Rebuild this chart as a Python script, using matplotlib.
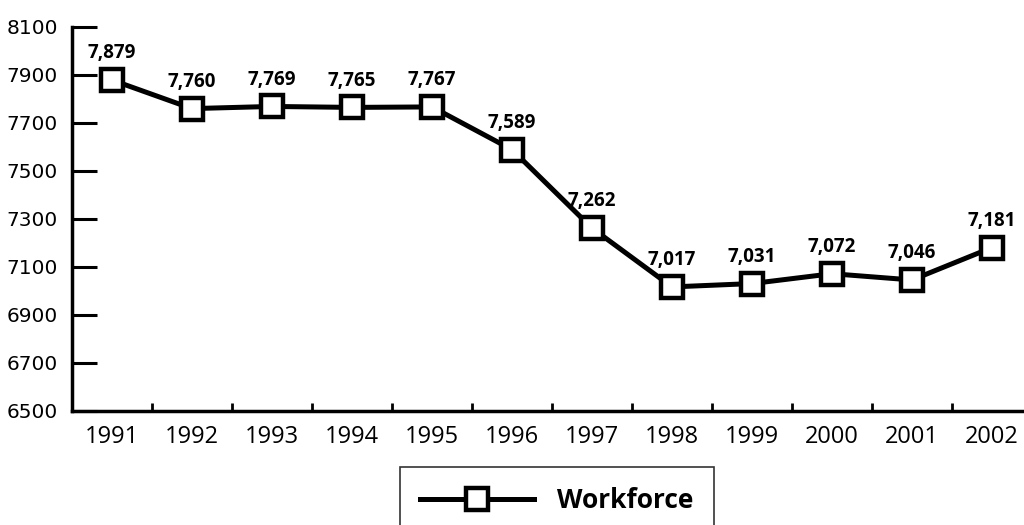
import matplotlib
matplotlib.use("Agg")
import matplotlib.pyplot as plt
import numpy as np
from matplotlib import font_manager

years = ["1991", "1992", "1993", "1994", "1995", "1996", "1997", "1998", "1999", "2000", "2001", "2002"]
workforce = [7879, 7760, 7769, 7765, 7767, 7589, 7262, 7017, 7031, 7072, 7046, 7181]
yticks = [6500, 6700, 6900, 7100, 7300, 7500, 7700, 7900, 8100]

names = {f.name for f in font_manager.fontManager.ttflist}
narrow = "Liberation Sans Narrow" if "Liberation Sans Narrow" in names else "DejaVu Sans"

fig = plt.figure(figsize=(10.24, 5.25), dpi=100)
ax = fig.add_axes([72/1024, 1-411/525, 960/1024, 384/525])
x = np.arange(len(years))
ax.plot(x, workforce, color="black", lw=3.6, marker="s", ms=15.5, mfc="white",
        mec="black", mew=3.2, label="Workforce", zorder=3, clip_on=False)
for xi, v in zip(x, workforce):
    ax.annotate(f"{v:,}", (xi, v), xytext=(0, 12), textcoords="offset points",
                ha="center", va="bottom", fontsize=13.5, fontweight="bold",
                family="Open Sans")

ax.set_xlim(-0.5, 11.5)
ax.set_ylim(6500, 8100)
ax.set_yticks(yticks)
ax.set_yticklabels([str(t) for t in yticks], family=narrow, fontsize=14.5)
ax.tick_params(axis="y", direction="in", length=18, width=2.2, pad=10)
ax.set_xticks(x)
ax.set_xticklabels(years, family="Open Sans", fontsize=17)
ax.tick_params(axis="x", which="major", length=0, pad=10)
ax.set_xticks(np.arange(0.5, 11.5, 1), minor=True)
ax.tick_params(axis="x", which="minor", direction="in", length=6, width=2)
for s in ["top", "right"]:
    ax.spines[s].set_visible(False)
for s in ["left", "bottom"]:
    ax.spines[s].set_linewidth(2.5)

leg = fig.legend(loc="upper center", bbox_to_anchor=(557/1024, 1-467/525), ncol=1,
                 prop={"family": "Open Sans", "weight": "bold", "size": 19},
                 frameon=True, fancybox=False, edgecolor="black", handlelength=4.3,
                 borderpad=0.75, handletextpad=0.9, borderaxespad=0)
leg.get_frame().set_linewidth(1.2)

fig.savefig("out.png", dpi=100)
